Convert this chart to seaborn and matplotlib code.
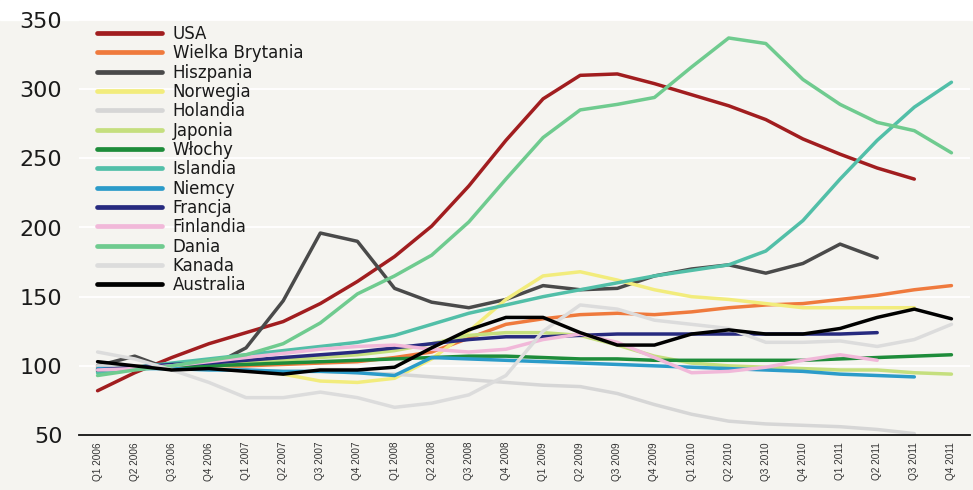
import numpy as np
import pandas as pd
import matplotlib
matplotlib.use("Agg")
import matplotlib.pyplot as plt
from matplotlib import font_manager
import seaborn as sns

# Quarters on the x axis
kwartaly = [f"Q{q} {r}" for r in range(2006, 2012) for q in range(1, 5)]

nan = np.nan
usa = [82, 95, 106, 116, 124, 132, 145, 161, 179, 201, 230, 263,
       293, 310, 311, 304, 296, 288, 278, 264, 253, 243, 235, nan]
wielka_brytania = [99, 100, 99, 99, 100, 101, 102, 103, 106, 110, 120, 130,
                   134, 137, 138, 137, 139, 142, 144, 145, 148, 151, 155, 158]
hiszpania = [100, 107, 97, 99, 113, 147, 196, 190, 156, 146, 142, 148,
             158, 155, 156, 165, 170, 173, 167, 174, 188, 178, nan, nan]
norwegia = [98, 99, 98, 98, 97, 94, 89, 88, 91, 105, 125, 148,
            165, 168, 162, 155, 150, 148, 145, 142, 142, 142, 142, nan]
holandia = [100, 100, 99, 98, 97, 96, 96, 95, 94, 92, 90, 88,
            86, 85, 80, 72, 65, 60, 58, 57, 56, 54, 51, nan]
japonia = [97, 99, 100, 101, 103, 104, 106, 108, 111, 116, 122, 124,
           124, 122, 115, 107, 102, 100, 99, 98, 97, 97, 95, 94]
wlochy = [96, 98, 99, 100, 101, 102, 103, 104, 105, 106, 107, 107,
          106, 105, 105, 104, 104, 104, 104, 104, 105, 106, 107, 108]
islandia = [95, 99, 102, 105, 108, 111, 114, 117, 122, 130, 138, 144,
            150, 155, 160, 165, 169, 173, 183, 205, 235, 263, 287, 305]
niemcy = [98, 98, 98, 97, 97, 96, 96, 95, 93, 106, 105, 104,
          103, 102, 101, 100, 99, 98, 97, 96, 94, 93, 92, nan]
francja = [97, 99, 101, 102, 104, 106, 108, 110, 113, 116, 119, 121,
           121, 122, 123, 123, 123, 123, 123, 123, 123, 124, nan, nan]
finlandia = [97, 98, 100, 103, 106, 109, 112, 114, 115, 112, 110, 112,
             119, 123, 117, 106, 95, 96, 99, 104, 108, 104, nan, nan]
dania = [93, 97, 100, 104, 108, 116, 131, 152, 165, 180, 204, 235,
         265, 285, 289, 294, 316, 337, 333, 307, 289, 276, 270, 254]
kanada = [110, 105, 97, 88, 77, 77, 81, 77, 70, 73, 79, 93,
          125, 144, 141, 133, 130, 127, 117, 117, 118, 114, 119, 130]
australia = [103, 100, 97, 98, 96, 94, 97, 97, 99, 113, 126, 135,
             135, 124, 115, 115, 123, 126, 123, 123, 127, 135, 141, 134]

kraje = ["USA", "Wielka Brytania", "Hiszpania", "Norwegia", "Holandia",
         "Japonia", "Włochy", "Islandia", "Niemcy", "Francja", "Finlandia",
         "Dania", "Kanada", "Australia"]
serie = [usa, wielka_brytania, hiszpania, norwegia, holandia, japonia,
         wlochy, islandia, niemcy, francja, finlandia, dania, kanada, australia]
kolory = ["#a11d1f", "#ef7a3d", "#4a4a4a", "#f2ec7c", "#d6d6d6", "#c5df7e",
          "#1e8c3a", "#52bfa8", "#2b9bc9", "#272a7f", "#f1b8d9", "#6fcb8f",
          "#dcdcdc", "#000000"]

rows = []
for kraj, vals in zip(kraje, serie):
    for i, v in enumerate(vals):
        rows.append({"kraj": kraj, "poz": i, "wartosc": v})
df = pd.DataFrame(rows).dropna()

sns.set_theme(style="white")
plt.rcParams["font.family"] = ["DejaVu Sans"]

# narrow face for the rotated quarter labels, if one is installed
installed = {f.name for f in font_manager.fontManager.ttflist}
narrow = next((n for n in ["Liberation Sans Narrow", "DejaVu Sans Condensed",
                           "Liberation Sans"] if n in installed), "DejaVu Sans")

bg = "#f5f4f0"
fig = plt.figure(figsize=(9.73, 4.9), dpi=100, facecolor=bg)
ax = fig.add_axes([79 / 973, 1 - 435 / 490, 891 / 973, 415 / 490])
ax.set_facecolor(bg)
# white strip above the plot area
fig.patches.append(plt.Rectangle((0, 1 - 20 / 490), 1, 20 / 490,
                                 transform=fig.transFigure, color="white",
                                 zorder=-1))

ax.yaxis.grid(True, color="white", linewidth=1.3)
ax.set_axisbelow(True)

sns.lineplot(data=df, x="poz", y="wartosc", hue="kraj", hue_order=kraje,
             palette=dict(zip(kraje, kolory)), linewidth=2.5, sort=False,
             ax=ax, legend=False, solid_joinstyle="round",
             solid_capstyle="round")

ax.set_xlim(-0.5, len(kwartaly) - 0.5)
ax.set_ylim(50, 350)
ax.set_yticks(range(50, 351, 50))
ax.tick_params(axis="y", length=0, pad=12, labelsize=16, labelcolor="#1a1a1a")

ax.set_xticks(range(len(kwartaly)))
ax.set_xticklabels(kwartaly, rotation=90, fontsize=7.2, color="#333333",
                   family=[narrow, "DejaVu Sans"])
ax.set_xticks(np.arange(-0.5, len(kwartaly), 1), minor=True)
ax.tick_params(axis="x", which="major", length=0, pad=5)
ax.tick_params(axis="x", which="minor", direction="in", length=6,
               width=1.3, color="#111111")
ax.set_xlabel("")
ax.set_ylabel("")

for s in ["top", "right", "left"]:
    ax.spines[s].set_visible(False)
ax.spines["bottom"].set_color("#111111")
ax.spines["bottom"].set_linewidth(1.3)

handles = [plt.Line2D([], [], color=c, linewidth=3.4) for c in kolory]
ax.legend(handles, kraje, loc="upper left", bbox_to_anchor=(0.02, 0.988),
          frameon=False, fontsize=12, handlelength=3.9, handletextpad=0.66,
          labelspacing=0.08, borderpad=0, borderaxespad=0,
          labelcolor="#1a1a1a")

fig.savefig("out.png", dpi=100, facecolor=bg)
